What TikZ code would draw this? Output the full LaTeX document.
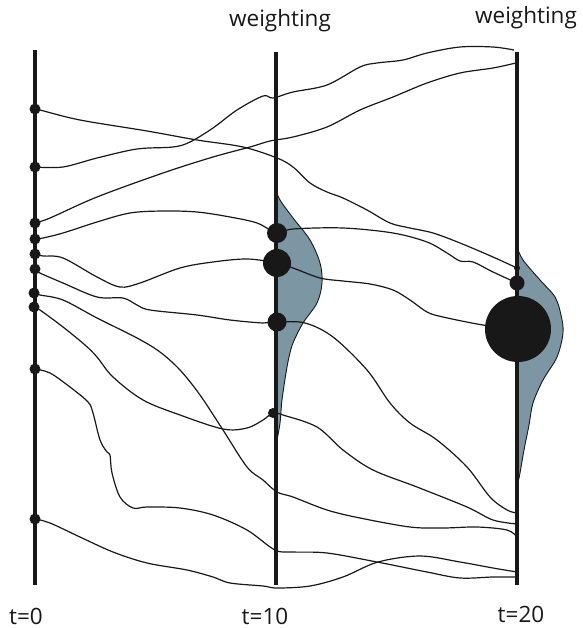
\documentclass[tikz,border=0pt]{standalone}
\usepackage{fontspec}
\setmainfont{Open Sans}
\definecolor{wfill}{RGB}{124,150,164}
\definecolor{ink}{RGB}{24,24,24}
\tikzset{
  axisline/.style={line width=3.6pt, draw=ink},
  traj/.style={line width=1.2pt, draw=ink, smooth, tension=0.55},
  wshape/.style={fill=wfill, draw=ink, line width=0.9pt},
  dot/.style={circle, fill=ink, inner sep=0pt, minimum size=#1},
  lbl/.style={font=\fontsize{22.5}{26}\selectfont, text=ink, inner sep=0pt}
}
\begin{document}
\begin{tikzpicture}[x=1pt,y=-1pt]
\useasboundingbox (0,0) rectangle (582,628);
% weighting shapes
\fill[wfill] plot[smooth,tension=0.55] coordinates {(276,190) (280,200) (293,218) (310,240) (320,263) (322,283) (317,303) (303,323) (293,343) (289,357) (286,373) (282,400) (280,423) (277,440)} -- cycle;
\draw[ink,line width=0.9pt] plot[smooth,tension=0.55] coordinates {(276,190) (280,200) (293,218) (310,240) (320,263) (322,283) (317,303) (303,323) (293,343) (289,357) (286,373) (282,400) (280,423) (277,440)};
\fill[wfill] plot[smooth,tension=0.55] coordinates {(517,247) (523,260) (540,280) (555,297) (561,315) (563,333) (557,357) (543,380) (533,403) (529,425) (524,450) (520,473) (517,487)} -- cycle;
\draw[ink,line width=0.9pt] plot[smooth,tension=0.55] coordinates {(517,247) (523,260) (540,280) (555,297) (561,315) (563,333) (557,357) (543,380) (533,403) (529,425) (524,450) (520,473) (517,487)};
% time axes
\coordinate (atop) at (35,50); \coordinate (abot) at (35,585);
\coordinate (btop) at (276,52); \coordinate (bbot) at (276,585);
\coordinate (ctop) at (517,52); \coordinate (cbot) at (517,585);
\draw[axisline] (atop) -- (abot);
\draw[axisline] (btop) -- (bbot);
\draw[axisline] (ctop) -- (cbot);
% particle positions (named)
\coordinate (a1) at (35,109); \coordinate (a2) at (35,167);
\coordinate (a3) at (35,223); \coordinate (a4) at (35,239);
\coordinate (a5) at (35,254); \coordinate (a6) at (35,269);
\coordinate (a7) at (34,293); \coordinate (a8) at (34,307);
\coordinate (a9) at (35,369); \coordinate (a10) at (35,519);
\coordinate (b1) at (277,233); \coordinate (b2) at (277,263);
\coordinate (b3) at (277,322); \coordinate (b4) at (273,413);
\coordinate (c1) at (517,268); \coordinate (c2) at (517,283);
\coordinate (c3) at (518,329);
% trajectories
\draw[traj] plot coordinates {(a1) (40,110) (80,120) (147,131) (197,140) (243,147) (277,158) (293,167) (310,183) (327,192) (343,198) (367,210) (390,223) (410,228) (433,233) (460,243) (493,257) (c1)};
\draw[traj] plot coordinates {(a2) (63,167) (97,158) (137,149) (173,147) (190,142) (213,128) (237,110) (263,96) (273,98) (293,92) (327,85) (360,67) (377,63) (403,60) (427,53) (460,47) (493,47) (514,50)};
\draw[traj] plot coordinates {(a3) (50,218) (97,197) (163,173) (213,157) (250,147) (270,141) (293,137) (327,127) (360,110) (393,97) (427,83) (460,73) (493,68) (516,63)};
\draw[traj] plot coordinates {(a4) (43,238) (63,233) (97,222) (130,213) (163,211) (197,212) (230,217) (257,223) (b1) (293,229) (343,228) (393,233) (427,242) (447,253) (460,261) (473,262) (493,272) (c2)};
\draw[traj] plot coordinates {(a5) (43,256) (63,258) (97,277) (120,287) (140,283) (180,268) (213,262) (247,259) (b2) (293,268) (320,278) (343,281) (370,284) (393,290) (410,300) (427,312) (443,317) (483,325) (c3)};
\draw[traj] plot coordinates {(a6) (40,273) (63,283) (97,297) (123,298) (137,305) (150,310) (197,315) (230,320) (263,323) (b3) (305,323) (333,337) (367,370) (390,403) (410,423) (437,440) (467,467) (490,497) (507,510) (517,513)};
\draw[traj] plot coordinates {(a7) (40,295) (63,300) (97,318) (137,338) (160,352) (180,370) (200,395) (223,430) (247,467) (263,480) (277,492) (293,497) (327,510) (360,518) (410,527) (443,528) (477,527) (507,530) (517,537)};
\draw[traj] plot coordinates {(a8) (40,310) (63,327) (85,345) (97,357) (113,377) (143,400) (180,415) (223,429) (247,428) (263,420) (b4) (283,415) (317,427) (343,450) (373,470) (417,487) (467,507) (493,520) (517,524)};
\draw[traj] plot coordinates {(a9) (50,373) (70,387) (88,402) (93,413) (100,440) (107,452) (110,455) (112,473) (120,497) (133,508) (147,507) (180,508) (213,515) (247,530) (275,550) (293,552) (327,553) (377,562) (427,572) (460,578) (493,577) (517,577)};
\draw[traj] plot coordinates {(a10) (50,523) (80,537) (113,552) (147,563) (187,570) (213,577) (230,583) (263,586) (277,588) (310,586) (343,577) (378,562) (420,556) (460,562) (493,568) (517,572)};
% dots
\foreach \p in {a1,a2,a3,a4,a5,a6,a7,a8,a9,a10} \node[dot=11pt] at (\p) {};
\node[dot=20pt] (nb1) at (b1) {};
\node[dot=28pt] (nb2) at (b2) {};
\node[dot=19pt] (nb3) at (b3) {};
\node[dot=10pt] (nb4) at (b4) {};
\node[dot=6pt] (nc1) at (c1) {};
\node[dot=15pt] (nc2) at (c2) {};
\node[dot=66pt] (nc3) at (c3) {};
% labels
\node[lbl, anchor=base] (w1) at (280,27) {weighting};
\node[lbl, anchor=base] (w2) at (526,24) {weighting};
\node[lbl, anchor=base] (t0) at (26,624) {t=0};
\node[lbl, anchor=base] (t10) at (265,624) {t=10};
\node[lbl, anchor=base] (t20) at (521,622) {t=20};
\end{tikzpicture}
\end{document}
